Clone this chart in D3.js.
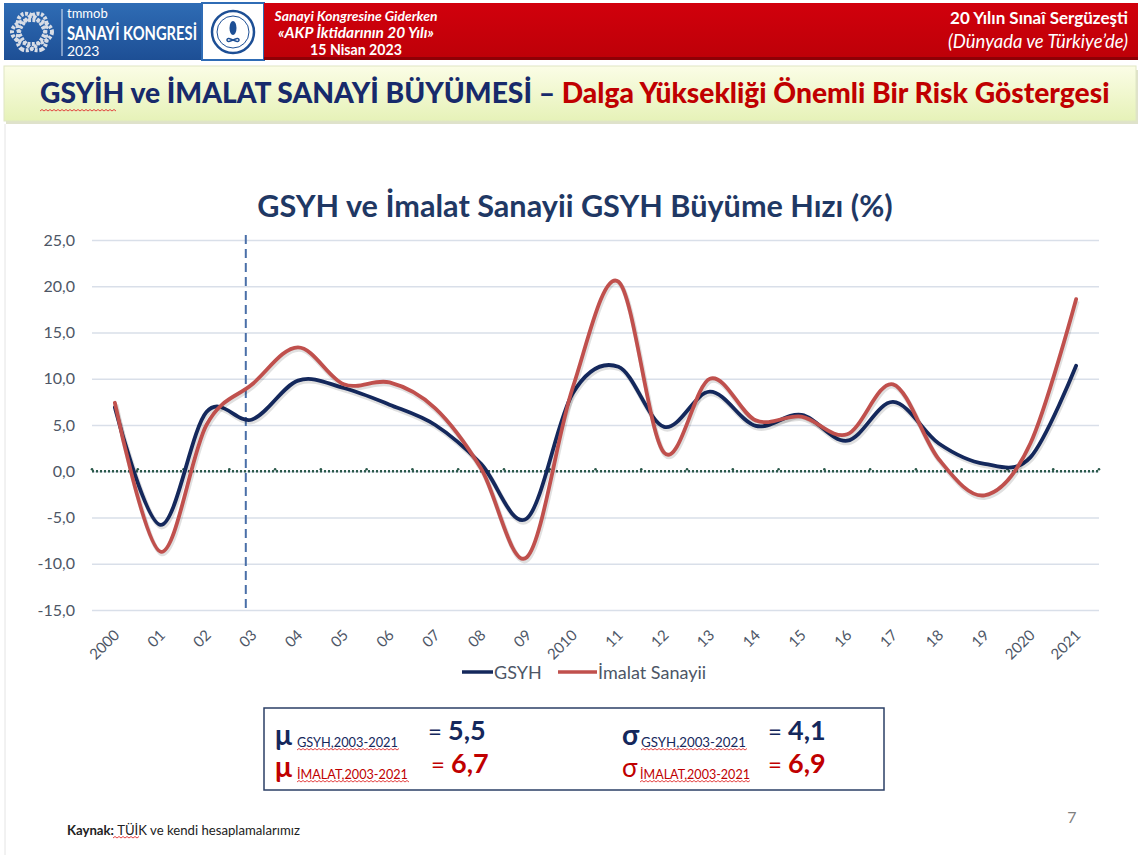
<!DOCTYPE html>
<html>
<head>
<meta charset="utf-8">
<script src="https://cdn.jsdelivr.net/npm/d3@7"></script>
<style>
  body { margin: 0; background: #fff; font-family: Lato, "Open Sans", sans-serif; }
  svg { display: block; }
</style>
</head>
<body>
<div class="d3-wrapper"></div>
<script>
// values
const xLabels = ['2000', '01', '02', '03', '04', '05', '06', '07', '08', '09', '2010',
  '11', '12', '13', '14', '15', '16', '17', '18', '19', '2020', '2021'];
const gsyh = [6.9, -5.8, 6.4, 5.6, 9.8, 9.0, 7.2, 5.0, 0.8, -5.1, 8.4,
  11.3, 4.8, 8.6, 4.9, 6.1, 3.3, 7.5, 3.0, 0.8, 1.5, 11.4];
const imalat = [7.4, -8.7, 5.0, 9.4, 13.4, 9.4, 9.6, 6.8, 0.3, -9.3, 9.0,
  20.5, 2.0, 10.0, 5.5, 5.9, 4.0, 9.4, 1.3, -2.6, 3.0, 18.6];
const yTicks = [-15, -10, -5, 0, 5, 10, 15, 20, 25];
const seriesNames = ['GSYH', 'İmalat Sanayii'];
const startYear = '03';

const statSymbols = ['μ', 'μ', 'σ', 'σ'];
const statSubs = ['GSYH,2003-2021', 'İMALAT,2003-2021', 'GSYH,2003-2021', 'İMALAT,2003-2021'];
const statValues = ['5,5', '6,7', '4,1', '6,9'];

const WIDTH = 1142, HEIGHT = 855;
const PLOT = { left: 92, right: 1099, top: 240, bottom: 610 };
const NAVY = '#14285c', RED = '#c0504d', DARKRED = '#c00000', GREY = '#4d5666';

const trLocale = d3.formatLocale({ decimal: ',', thousands: '.', grouping: [3], currency: ['', ''], minus: '-' });
const fmt = trLocale.format('.1f');

const xScale = d3.scalePoint().domain(xLabels).range([PLOT.left, PLOT.right]).padding(0.5);
const yScale = d3.scaleLinear().domain([-15, 25]).range([PLOT.bottom, PLOT.top]);

const svg = d3.select('.d3-wrapper').append('svg')
  .attr('width', WIDTH)
  .attr('height', HEIGHT);

const defs = svg.append('defs');
const blueGrad = defs.append('linearGradient').attr('id', 'blueGrad').attr('x1', 0).attr('y1', 0).attr('x2', 0).attr('y2', 1);
blueGrad.append('stop').attr('offset', '0%').attr('stop-color', '#2f6cb5');
blueGrad.append('stop').attr('offset', '100%').attr('stop-color', '#1d4f95');
const redGrad = defs.append('linearGradient').attr('id', 'redGrad').attr('x1', 0).attr('y1', 0).attr('x2', 0).attr('y2', 1);
redGrad.append('stop').attr('offset', '0%').attr('stop-color', '#d1000c');
redGrad.append('stop').attr('offset', '100%').attr('stop-color', '#bd0008');
const bannerGrad = defs.append('linearGradient').attr('id', 'bannerGrad').attr('x1', 0).attr('y1', 0).attr('x2', 0).attr('y2', 1);
bannerGrad.append('stop').attr('offset', '0%').attr('stop-color', '#fbfde6');
bannerGrad.append('stop').attr('offset', '100%').attr('stop-color', '#e6f2b8');

// scale a text's font so it spans the wanted width
function fitWidth(sel, w) {
  const len = sel.node().getComputedTextLength();
  const fs = parseFloat(sel.style('font-size'));
  sel.style('font-size', (fs * w / len) + 'px');
  return sel;
}

// red spell-check squiggle
function squiggle(x0, x1, y) {
  let d = `M${x0},${y}`;
  for (let x = x0, up = true; x < x1; x += 2, up = !up) d += ` L${x + 2},${y + (up ? -1.5 : 0)}`;
  svg.append('path').attr('d', d).attr('fill', 'none').attr('stroke', '#e03030').attr('stroke-width', 0.9);
}

// ---------- header ----------
svg.append('rect').attr('x', 4).attr('y', 3).attr('width', 198).attr('height', 57).attr('fill', 'url(#blueGrad)');
svg.append('rect').attr('x', 202).attr('y', 3).attr('width', 62).attr('height', 57).attr('fill', '#fff')
  .attr('stroke', '#2f6cb5').attr('stroke-width', 2);
svg.append('rect').attr('x', 264).attr('y', 3).attr('width', 874).attr('height', 57).attr('fill', 'url(#redGrad)');
svg.append('rect').attr('x', 264).attr('y', 57).attr('width', 874).attr('height', 3).attr('fill', '#8e0006');

// knot emblem (rough)
const knot = svg.append('g').attr('transform', 'translate(32,32)');
[[20, 12, 0], [20, 12, 60], [20, 12, 120]].forEach(([rx, ry, rot]) => {
  knot.append('ellipse').attr('rx', rx).attr('ry', ry).attr('transform', `rotate(${rot})`)
    .attr('fill', 'none').attr('stroke', '#d8dde6').attr('stroke-width', 4).attr('stroke-dasharray', '3,1.5');
});
svg.append('line').attr('x1', 62).attr('x2', 62).attr('y1', 9).attr('y2', 56).attr('stroke', '#dfe8f5').attr('stroke-width', 1);

svg.append('text').attr('x', 67).attr('y', 18).attr('fill', '#fff').style('font-size', '13px').text('tmmob');
const kong = svg.append('text').attr('x', 67).attr('y', 40).attr('fill', '#fff').style('font-size', '19px')
  .style('font-weight', 'bold').text('SANAYİ KONGRESİ');
kong.attr('textLength', 130).attr('lengthAdjust', 'spacingAndGlyphs');
svg.append('text').attr('x', 67).attr('y', 56).attr('fill', '#fff').style('font-size', '14px').text('2023');

// middle logo (rough)
const logo = svg.append('g').attr('transform', 'translate(233,32)');
logo.append('circle').attr('r', 21).attr('fill', 'none').attr('stroke', '#1d4f95').attr('stroke-width', 2.5);
logo.append('circle').attr('r', 16).attr('fill', 'none').attr('stroke', '#1d4f95').attr('stroke-width', 1);
logo.append('ellipse').attr('cy', -4).attr('rx', 3.5).attr('ry', 7).attr('fill', '#1d4f95');
logo.append('path').attr('d', 'M-6,8 C-6,3 6,13 6,8 C6,3 -6,13 -6,8 Z').attr('fill', 'none').attr('stroke', '#1d4f95').attr('stroke-width', 1.5);

const midX = 356;
fitWidth(svg.append('text').attr('x', midX).attr('y', 21).attr('text-anchor', 'middle').attr('fill', '#fff')
  .style('font-size', '12px').style('font-weight', 'bold').style('font-style', 'italic').text('Sanayi Kongresine Giderken'), 163);
fitWidth(svg.append('text').attr('x', midX).attr('y', 38).attr('text-anchor', 'middle').attr('fill', '#fff')
  .style('font-size', '12px').style('font-weight', 'bold').style('font-style', 'italic').text('«AKP İktidarının 20 Yılı»'), 156);
fitWidth(svg.append('text').attr('x', midX).attr('y', 55).attr('text-anchor', 'middle').attr('fill', '#fff')
  .style('font-size', '11px').style('font-weight', 'bold').text('15 Nisan 2023'), 92);

fitWidth(svg.append('text').attr('x', 1128).attr('y', 24).attr('text-anchor', 'end').attr('fill', '#fff')
  .style('font-size', '14px').style('font-weight', 'bold').text('20 Yılın Sınaî Sergüzeşti'), 178);
fitWidth(svg.append('text').attr('x', 1128).attr('y', 48).attr('text-anchor', 'end').attr('fill', '#fff')
  .style('font-size', '13px').style('font-style', 'italic').text('(Dünyada ve Türkiye’de)'), 180);

// ---------- banner ----------
svg.append('rect').attr('x', 6).attr('y', 70).attr('width', 1132).attr('height', 54).attr('fill', '#c9cfa8').attr('opacity', 0.6);
svg.append('rect').attr('x', 4).attr('y', 66).attr('width', 1132).attr('height', 55).attr('fill', 'url(#bannerGrad)')
  .attr('stroke', '#dfe6c4').attr('stroke-width', 1);
const banner = svg.append('text').attr('x', 40).attr('y', 103).style('font-size', '26px').style('font-weight', '900');
banner.append('tspan').attr('fill', '#172a6b').text('GSYİH ve İMALAT SANAYİ BÜYÜMESİ – ');
banner.append('tspan').attr('fill', DARKRED).text('Dalga Yüksekliği Önemli Bir Risk Göstergesi');
fitWidth(banner, 1070);
squiggle(40, 116, 111);

// left page edge
svg.append('line').attr('x1', 5).attr('x2', 5).attr('y1', 124).attr('y2', HEIGHT).attr('stroke', '#e4e4e4');

// ---------- chart ----------
fitWidth(svg.append('text').attr('x', 575).attr('y', 217).attr('text-anchor', 'middle').attr('fill', '#1f3864')
  .style('font-size', '26px').style('font-weight', 'bold').text('GSYH ve İmalat Sanayii GSYH Büyüme Hızı (%)'), 636);

const grid = svg.append('g')
  .attr('transform', `translate(${PLOT.left},0)`)
  .call(d3.axisLeft(yScale).tickValues(yTicks).tickSize(-(PLOT.right - PLOT.left)).tickFormat(''));
grid.select('.domain').remove();
grid.selectAll('line').attr('stroke', '#d9dfe9').attr('stroke-width', 1.5);

const yAxis = svg.append('g')
  .attr('transform', `translate(${PLOT.left},0)`)
  .call(d3.axisLeft(yScale).tickValues(yTicks).tickSize(0).tickPadding(17).tickFormat(fmt));
yAxis.select('.domain').remove();
yAxis.selectAll('text').attr('fill', GREY).style('font-size', '16px').style('font-family', 'Lato, sans-serif');

const xAxis = svg.append('g')
  .attr('transform', `translate(0,${PLOT.bottom})`)
  .call(d3.axisBottom(xScale).tickSize(0));
xAxis.select('.domain').remove();
xAxis.selectAll('text')
  .attr('fill', GREY)
  .attr('text-anchor', 'end')
  .attr('dy', null)
  .attr('y', 0)
  .attr('transform', 'translate(5,26) rotate(-45)')
  .style('font-size', '15px')
  .style('font-family', 'Lato, sans-serif');

// 2003 marker line
const markX = xScale(startYear) - xScale.step() * 0.14;
svg.append('line')
  .attr('x1', markX).attr('x2', markX)
  .attr('y1', yScale(25) - 5).attr('y2', PLOT.bottom)
  .attr('stroke', '#4a6fa8').attr('stroke-width', 2).attr('stroke-dasharray', '9,5');

// zero line, dotted, with small marks on the band edges
svg.append('line')
  .attr('x1', PLOT.left).attr('x2', PLOT.right)
  .attr('y1', yScale(0)).attr('y2', yScale(0))
  .attr('stroke', '#2c5a4c').attr('stroke-width', 2.5).attr('stroke-dasharray', '2,2');
svg.selectAll('.zeromark')
  .data(xLabels.concat(['end']))
  .enter().append('circle')
  .attr('class', 'zeromark')
  .attr('cx', (d, i) => PLOT.left + i * xScale.step())
  .attr('cy', yScale(0) - 2)
  .attr('r', 1.3)
  .attr('fill', '#2c5a4c');

const line = d3.line()
  .x((d, i) => xScale(xLabels[i]))
  .y((d) => yScale(d))
  .curve(d3.curveCardinal.tension(0));

[[gsyh, NAVY], [imalat, RED]].forEach(([vals, color]) => {
  svg.append('path')
    .datum(vals)
    .attr('fill', 'none')
    .attr('stroke', '#000')
    .attr('stroke-opacity', 0.12)
    .attr('stroke-width', 5)
    .attr('transform', 'translate(1,2)')
    .attr('d', line);
  svg.append('path')
    .datum(vals)
    .attr('fill', 'none')
    .attr('stroke', color)
    .attr('stroke-width', 3.8)
    .attr('stroke-linejoin', 'round')
    .attr('stroke-linecap', 'round')
    .attr('d', line);
});

// legend
const legendItems = [
  { name: seriesNames[0], color: NAVY, x1: 462, x2: 493, tx: 494 },
  { name: seriesNames[1], color: RED, x1: 558, x2: 597, tx: 598 }
];
const legend = svg.selectAll('.legend')
  .data(legendItems)
  .enter().append('g')
  .attr('class', 'legend');
legend.append('line')
  .attr('x1', (d) => d.x1).attr('x2', (d) => d.x2)
  .attr('y1', 672).attr('y2', 672)
  .attr('stroke', (d) => d.color).attr('stroke-width', 3.5);
legend.append('text')
  .attr('x', (d) => d.tx).attr('y', 679)
  .attr('fill', GREY)
  .style('font-size', '18px')
  .text((d) => d.name);

// ---------- stats box ----------
svg.append('rect').attr('x', 264).attr('y', 708).attr('width', 620).attr('height', 82)
  .attr('fill', '#fff').attr('stroke', '#2b3f66').attr('stroke-width', 1.5);

const statPos = [
  { x: 275, y: 745, subX: 297, subY: 747, subW: 101, eqX: 428, eqY: 740, color: NAVY, bold: true, symSize: 28, subSize: 13 },
  { x: 275, y: 777, subX: 297, subY: 779, subW: 111, eqX: 431, eqY: 773, color: DARKRED, bold: true, symSize: 28, subSize: 13 },
  { x: 622, y: 745, subX: 641, subY: 747, subW: 105, eqX: 768, eqY: 740, color: NAVY, bold: true, symSize: 28, subSize: 15 },
  { x: 622, y: 777, subX: 640, subY: 779, subW: 110, eqX: 768, eqY: 773, color: DARKRED, bold: false, symSize: 26, subSize: 14 }
];
statSymbols.forEach((sym, i) => {
  const p = statPos[i];
  svg.append('text').attr('x', p.x).attr('y', p.y).attr('fill', p.color)
    .style('font-size', p.symSize + 'px').style('font-weight', p.bold ? 'bold' : 'normal').text(sym);
  fitWidth(svg.append('text').attr('x', p.subX).attr('y', p.subY).attr('fill', p.color)
    .style('font-size', p.subSize + 'px').text(statSubs[i]), p.subW);
  squiggle(p.subX, p.subX + p.subW, p.subY + 3);
  const eq = svg.append('text').attr('x', p.eqX).attr('y', p.eqY).attr('fill', p.color).style('font-size', '24px');
  eq.append('tspan').text('= ');
  eq.append('tspan').style('font-weight', 'bold').style('font-size', '27px').text(statValues[i]);
});

// ---------- footer ----------
const src = svg.append('text').attr('x', 67).attr('y', 835).attr('fill', '#222').style('font-size', '11px');
src.append('tspan').style('font-weight', 'bold').text('Kaynak: ');
src.append('tspan').text('TÜİK ve kendi hesaplamalarımız');
fitWidth(src, 233);
squiggle(113, 138, 838);

svg.append('text').attr('x', 1072).attr('y', 823).attr('text-anchor', 'middle').attr('fill', '#7f7f7f')
  .style('font-size', '16px').text('7');
</script>
</body>
</html>
